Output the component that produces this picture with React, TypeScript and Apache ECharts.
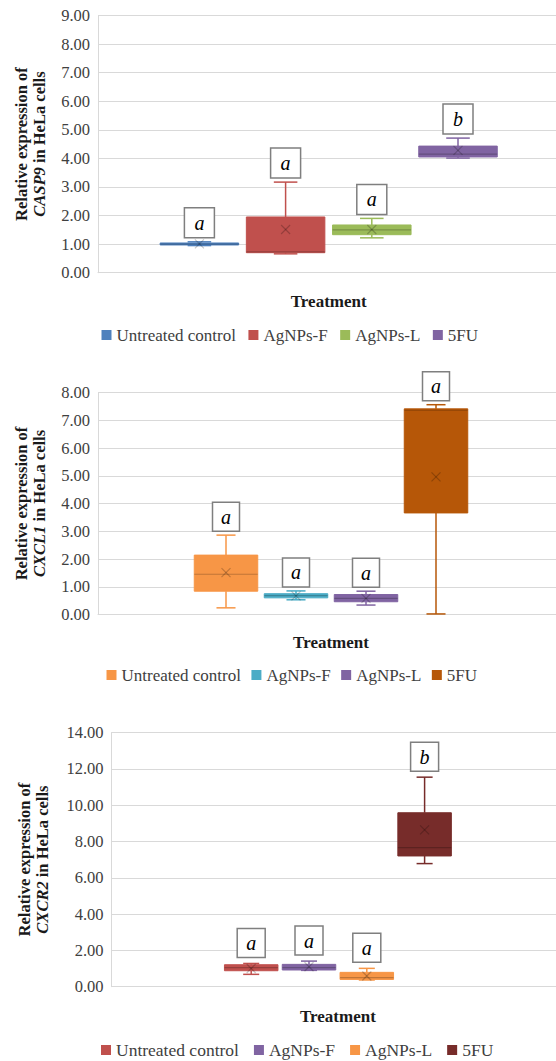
import React, { useEffect, useRef } from "react";
import * as echarts from "echarts";

const treatments = ["Untreated control", "AgNPs-F", "AgNPs-L", "5FU"];

// Panel 1: CASP9
const casp9Min = [0.95, 0.66, 1.22, 4.01];
const casp9Q1 = [0.97, 0.7, 1.33, 4.05];
const casp9Median = [1.0, 0.73, 1.5, 4.15];
const casp9Q3 = [1.04, 1.95, 1.67, 4.43];
const casp9Max = [1.08, 3.17, 1.9, 4.71];
const casp9Mean = [1.01, 1.51, 1.51, 4.28];
const casp9Letters = ["a", "a", "a", "b"];
const casp9Colors = ["#4F81BD", "#C0504D", "#9BBB59", "#8064A2"];

// Panel 2: CXCL1
const cxcl1Min = [0.24, 0.53, 0.34, 0.02];
const cxcl1Q1 = [0.84, 0.6, 0.46, 3.66];
const cxcl1Median = [1.45, 0.68, 0.58, 7.36];
const cxcl1Q3 = [2.14, 0.75, 0.72, 7.41];
const cxcl1Max = [2.86, 0.85, 0.84, 7.56];
const cxcl1Mean = [1.51, 0.67, 0.58, 4.96];
const cxcl1Letters = ["a", "a", "a", "a"];
const cxcl1Colors = ["#F79646", "#4BACC6", "#8064A2", "#B65708"];

// Panel 3: CXCR2
const cxcr2Min = [0.68, 0.9, 0.37, 6.78];
const cxcr2Q1 = [0.88, 0.92, 0.4, 7.2];
const cxcr2Median = [1.05, 1.05, 0.5, 7.66];
const cxcr2Q3 = [1.21, 1.23, 0.79, 9.58];
const cxcr2Max = [1.28, 1.41, 1.01, 11.54];
const cxcr2Mean = [1.0, 1.1, 0.59, 8.64];
const cxcr2Letters = ["a", "a", "a", "b"];
const cxcr2Colors = ["#C0504D", "#8064A2", "#F79646", "#772C2A"];

const SERIF = "Liberation Serif, serif";

type PanelCfg = {
  top: number;
  height: number;
  gene: string;
  colors: string[];
  min: number[];
  q1: number[];
  med: number[];
  q3: number[];
  max: number[];
  mean: number[];
  letters: string[];
  yMax: number;
  yInterval: number;
  gridTop: number;
  gridHeight: number;
  axisLeft: number;
  nameGap: number;
  boxGridLeft: number;
  boxGridWidth: number;
  boxW: number;
  labelW: number;
  labelH: number;
  labelGap: number;
  treatmentGap: number;
  legendLeft: number;
  legendTop: number;
  legendGap: number;
  legendFont: number;
};

const panels: PanelCfg[] = [
  {
    top: 0, height: 350, gene: "CASP9", colors: casp9Colors,
    min: casp9Min, q1: casp9Q1, med: casp9Median, q3: casp9Q3, max: casp9Max, mean: casp9Mean,
    letters: casp9Letters, yMax: 9, yInterval: 1,
    gridTop: 15.5, gridHeight: 257.2, axisLeft: 98, nameGap: 50,
    boxGridLeft: 156.3, boxGridWidth: 344.8, boxW: 78.5,
    labelW: 30, labelH: 30, labelGap: 4, treatmentGap: 20,
    legendLeft: 101.5, legendTop: 326.5, legendGap: 12.5, legendFont: 17,
  },
  {
    top: 350, height: 345, gene: "CXCL1", colors: cxcl1Colors,
    min: cxcl1Min, q1: cxcl1Q1, med: cxcl1Median, q3: cxcl1Q3, max: cxcl1Max, mean: cxcl1Mean,
    letters: cxcl1Letters, yMax: 8, yInterval: 1,
    gridTop: 42.5, gridHeight: 222, axisLeft: 98, nameGap: 50,
    boxGridLeft: 191, boxGridWidth: 280, boxW: 63.5,
    labelW: 27, labelH: 29, labelGap: 4, treatmentGap: 19,
    legendLeft: 106.5, legendTop: 316.5, legendGap: 10.5, legendFont: 17,
  },
  {
    top: 695, height: 366, gene: "CXCR2", colors: cxcr2Colors,
    min: cxcr2Min, q1: cxcr2Q1, med: cxcr2Median, q3: cxcr2Q3, max: cxcr2Max, mean: cxcr2Mean,
    letters: cxcr2Letters, yMax: 14, yInterval: 2,
    gridTop: 37.5, gridHeight: 254.2, axisLeft: 111.5, nameGap: 60,
    boxGridLeft: 222.3, boxGridWidth: 231.2, boxW: 53.5,
    labelW: 28, labelH: 29, labelGap: 6, treatmentGap: 21,
    legendLeft: 101, legendTop: 346, legendGap: 15, legendFont: 17.5,
  },
];

function buildOption(p: PanelCfg): any {
  const series = treatments.map((t, i) => ({
    type: "custom",
    name: t,
    xAxisIndex: 1,
    yAxisIndex: 1,
    itemStyle: { color: p.colors[i] },
    encode: { x: 0, y: [1, 2, 3, 4, 5, 6] },
    data: [[t, p.min[i], p.q1[i], p.med[i], p.q3[i], p.max[i], p.mean[i]]],
    clip: false,
    renderItem: (params: any, api: any) => {
      const xi = api.value(0);
      const vMin = api.value(1);
      const vQ1 = api.value(2);
      const vMed = api.value(3);
      const vQ3 = api.value(4);
      const vMax = api.value(5);
      const vMean = api.value(6);
      const pMin = api.coord([xi, vMin]);
      const pQ1 = api.coord([xi, vQ1]);
      const pMed = api.coord([xi, vMed]);
      const pQ3 = api.coord([xi, vQ3]);
      const pMax = api.coord([xi, vMax]);
      const pMean = api.coord([xi, vMean]);
      const cx = pMin[0];
      const color = p.colors[i];
      const half = p.boxW / 2;
      const cap = (p.boxW * 0.3) / 2;
      const lineStyle = { stroke: color, lineWidth: 1.5 };
      const m = 4.5;
      const darker = "rgba(0,0,0,0.22)";
      const labelBottom = pMax[1] - p.labelGap;
      return {
        type: "group",
        children: [
          { type: "line", shape: { x1: cx, y1: pQ3[1], x2: cx, y2: pMax[1] }, style: lineStyle },
          { type: "line", shape: { x1: cx, y1: pQ1[1], x2: cx, y2: pMin[1] }, style: lineStyle },
          { type: "line", shape: { x1: cx - cap, y1: pMax[1], x2: cx + cap, y2: pMax[1] }, style: lineStyle },
          { type: "line", shape: { x1: cx - cap, y1: pMin[1], x2: cx + cap, y2: pMin[1] }, style: lineStyle },
          {
            type: "rect",
            shape: { x: cx - half, y: pQ3[1], width: p.boxW, height: Math.max(pQ1[1] - pQ3[1], 2) },
            style: { fill: color, stroke: color, lineWidth: 1 },
          },
          { type: "line", shape: { x1: cx - half, y1: pMed[1], x2: cx + half, y2: pMed[1] }, style: { stroke: darker, lineWidth: 1.2 } },
          { type: "line", shape: { x1: cx - m, y1: pMean[1] - m, x2: cx + m, y2: pMean[1] + m }, style: { stroke: darker, lineWidth: 1.2 } },
          { type: "line", shape: { x1: cx - m, y1: pMean[1] + m, x2: cx + m, y2: pMean[1] - m }, style: { stroke: darker, lineWidth: 1.2 } },
          {
            type: "rect",
            shape: { x: cx - p.labelW / 2, y: labelBottom - p.labelH, width: p.labelW, height: p.labelH },
            style: { fill: "#ffffff", stroke: "#7f7f7f", lineWidth: 1.5 },
          },
          {
            type: "text",
            style: {
              text: p.letters[i],
              x: cx,
              y: labelBottom - p.labelH / 2,
              align: "center",
              verticalAlign: "middle",
              fontFamily: SERIF,
              fontStyle: "italic",
              fontSize: 20,
              fill: "#000000",
            },
          },
        ],
      };
    },
  }));

  return {
    animation: false,
    backgroundColor: "#ffffff",
    textStyle: { fontFamily: SERIF },
    legend: {
      data: treatments,
      left: p.legendLeft,
      top: p.legendTop,
      padding: 0,
      itemWidth: 10,
      itemHeight: 10,
      itemGap: p.legendGap,
      icon: "rect",
      selectedMode: false,
      textStyle: { fontFamily: SERIF, fontSize: p.legendFont, color: "#404040" },
    },
    grid: [
      { left: p.axisLeft, right: 0, top: p.gridTop, height: p.gridHeight },
      { left: p.boxGridLeft, width: p.boxGridWidth, top: p.gridTop, height: p.gridHeight },
    ],
    xAxis: [
      {
        type: "category",
        gridIndex: 0,
        data: ["Treatment"],
        axisLine: { show: true, lineStyle: { color: "#d9d9d9" } },
        axisTick: { show: false },
        axisLabel: { show: false },
        splitLine: { show: false },
      },
      {
        type: "category",
        gridIndex: 1,
        data: treatments,
        axisLine: { show: false },
        axisTick: { show: false },
        axisLabel: { show: false },
        splitLine: { show: false },
        name: "Treatment",
        nameLocation: "middle",
        nameGap: p.treatmentGap,
        nameTextStyle: { fontFamily: SERIF, fontSize: 17, fontWeight: "bold", color: "#1a1a1a" },
      },
    ],
    yAxis: [
      {
        type: "value",
        gridIndex: 0,
        min: 0,
        max: p.yMax,
        interval: p.yInterval,
        axisLine: { show: true, lineStyle: { color: "#d9d9d9" } },
        axisTick: { show: false },
        axisLabel: {
          formatter: (v: number) => v.toFixed(2),
          fontFamily: SERIF,
          fontSize: 16.5,
          color: "#404040",
          margin: 8,
        },
        splitLine: { lineStyle: { color: "#d9d9d9", width: 1 } },
        name: "{b|Relative expression of}\n{bi|" + p.gene + "}{b| in HeLa cells}",
        nameLocation: "middle",
        nameGap: p.nameGap,
        nameTextStyle: {
          color: "#1a1a1a",
          fontFamily: SERIF,
          rich: {
            b: { fontFamily: SERIF, fontSize: 16.5, fontWeight: "bold", color: "#1a1a1a", lineHeight: 18 },
            bi: { fontFamily: SERIF, fontSize: 16.5, fontWeight: "bold", fontStyle: "italic", color: "#1a1a1a", lineHeight: 18 },
          },
        },
      },
      {
        type: "value",
        gridIndex: 1,
        min: 0,
        max: p.yMax,
        interval: p.yInterval,
        show: false,
      },
    ],
    series,
  };
}

function Panel({ cfg }: { cfg: PanelCfg }) {
  const ref = useRef<HTMLDivElement>(null);
  useEffect(() => {
    if (!ref.current) return;
    const chart = echarts.init(ref.current, undefined, { renderer: "svg" });
    chart.setOption(buildOption(cfg));
    return () => chart.dispose();
  }, [cfg]);
  return (
    <div
      ref={ref}
      style={{ position: "absolute", left: 0, top: cfg.top, width: 556, height: cfg.height }}
    />
  );
}

export default function App() {
  return (
    <div style={{ position: "absolute", left: 0, top: 0, width: 556, height: 1061, background: "#fff" }}>
      {panels.map((p) => (
        <Panel key={p.gene} cfg={p} />
      ))}
    </div>
  );
}
